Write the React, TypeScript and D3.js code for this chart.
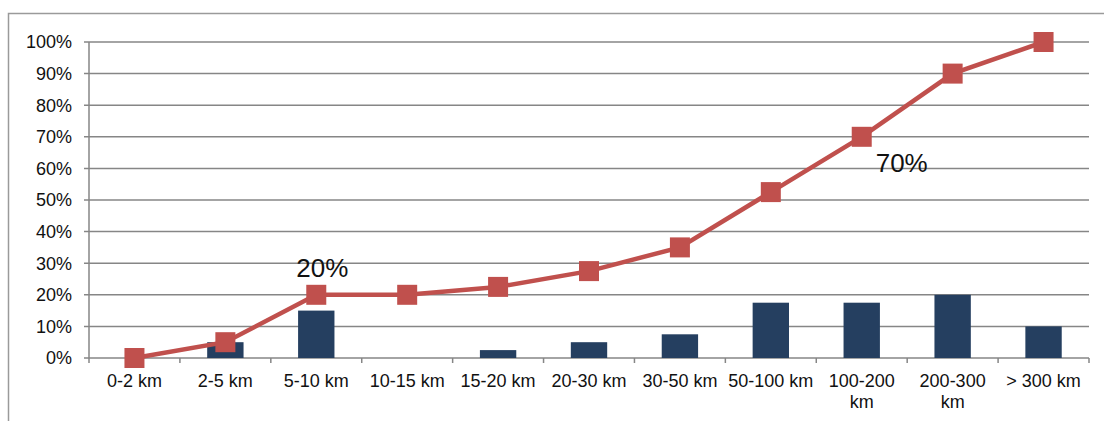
import React from "react";
import * as d3 from "d3";

const categories: string[][] = [
  ["0-2 km"], ["2-5 km"], ["5-10 km"], ["10-15 km"], ["15-20 km"], ["20-30 km"],
  ["30-50 km"], ["50-100 km"], ["100-200", "km"], ["200-300", "km"], ["> 300 km"],
];
const barValues = [0, 5, 15, 0, 2.5, 5, 7.5, 17.5, 17.5, 20, 10];
const lineValues = [0, 5, 20, 20, 22.5, 27.5, 35, 52.5, 70, 90, 100];
const yTicks = [0, 10, 20, 30, 40, 50, 60, 70, 80, 90, 100];
const annotations = [
  { index: 2, value: 20, text: "20%" },
  { index: 8, value: 70, text: "70%" },
];

const W = 1104, H = 421;
const left = 89, right = 1089, top = 42, bottom = 358;
const FONT = "'Liberation Sans', Arial, sans-serif";

export default function App() {
  const keys = categories.map((c) => c.join(" "));
  const x = d3.scaleBand<string>().domain(keys).range([left, right]).paddingInner(0).paddingOuter(0);
  const y = d3.scaleLinear().domain([0, 100]).range([bottom, top]);
  const bw = x.bandwidth();
  const barW = bw * 0.4;
  const cx = (i: number) => (x(keys[i]) as number) + bw / 2;
  const line = d3.line<number>().x((_, i) => cx(i)).y((d) => y(d));
  const grid = "#868686";
  const ms = 20;
  const annPos = (i: number) => (i === 0 ? { dx: 6, dy: -18 } : { dx: 40, dy: 35 });

  return (
    <svg width={W} height={H} style={{ position: "absolute", left: 0, top: 0 }} fontFamily={FONT}>
      <rect x={0} y={0} width={W} height={H} fill="#fff" />
      <path d={`M8.5,${H} V13.5 H${W}`} fill="none" stroke="#9a9a9a" strokeWidth={1.5} />
      {yTicks.map((t) => (
        <g key={t}>
          <line x1={left - 5} x2={right} y1={y(t)} y2={y(t)} stroke={grid} strokeWidth={1.5} />
          <text x={72} y={y(t)} dy="0.35em" textAnchor="end" fontSize={18} fill="#111">{t}%</text>
        </g>
      ))}
      <line x1={left} x2={left} y1={top} y2={bottom + 5} stroke={grid} strokeWidth={1.5} />
      {keys.map((k) => (
        <line key={k} x1={(x(k) as number) + bw} x2={(x(k) as number) + bw} y1={bottom} y2={bottom + 5} stroke={grid} strokeWidth={1.5} />
      ))}
      {barValues.map((v, i) =>
        v > 0 ? (
          <rect key={i} x={cx(i) - barW / 2} y={y(v)} width={barW} height={bottom - y(v)} fill="#253f60" />
        ) : null
      )}
      <path d={line(lineValues) || ""} fill="none" stroke="#c0504d" strokeWidth={4.5} />
      {lineValues.map((v, i) => (
        <rect key={i} x={cx(i) - ms / 2} y={y(v) - ms / 2} width={ms} height={ms} fill="#c0504d" />
      ))}
      {categories.map((lines, i) => (
        <text key={i} x={cx(i)} y={387} textAnchor="middle" fontSize={18} fill="#111">
          {lines.map((l, j) => (
            <tspan key={j} x={cx(i)} dy={j === 0 ? 0 : 21}>{l}</tspan>
          ))}
        </text>
      ))}
      {annotations.map((a, k) => {
        const p = annPos(k);
        return (
          <text key={a.text} x={cx(a.index) + p.dx} y={y(a.value) + p.dy}
            textAnchor="middle" fontSize={26} fill="#111">{a.text}</text>
        );
      })}
    </svg>
  );
}
